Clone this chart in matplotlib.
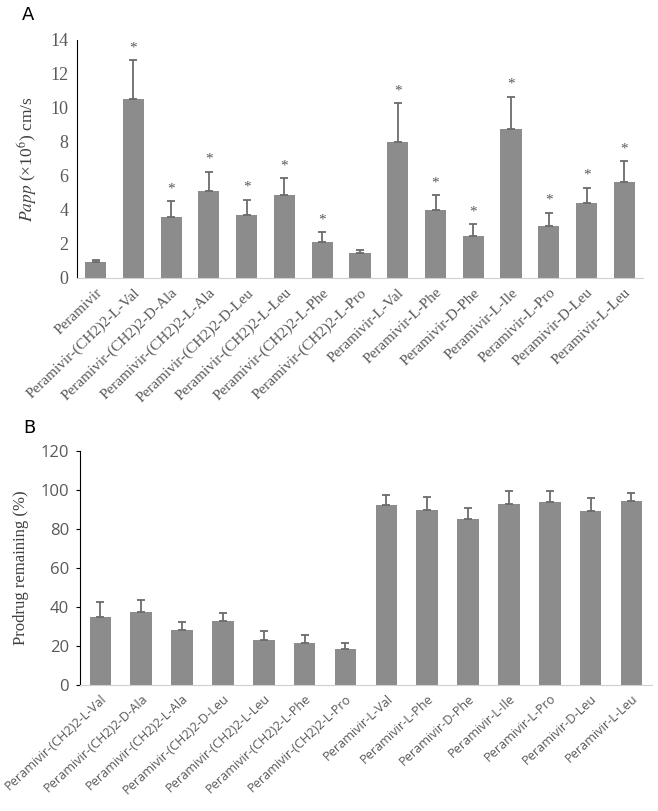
import numpy as np
import matplotlib.pyplot as plt

# panel A - permeability
names_a = ['Peramivir', 'Peramivir-(CH2)2-L-Val', 'Peramivir-(CH2)2-D-Ala',
           'Peramivir-(CH2)2-L-Ala', 'Peramivir-(CH2)2-D-Leu', 'Peramivir-(CH2)2-L-Leu',
           'Peramivir-(CH2)2-L-Phe', 'Peramivir-(CH2)2-L-Pro', 'Peramivir-L-Val',
           'Peramivir-L-Phe', 'Peramivir-D-Phe', 'Peramivir-L-Ile', 'Peramivir-L-Pro',
           'Peramivir-D-Leu', 'Peramivir-L-Leu']
papp = [0.95, 10.5, 3.6, 5.1, 3.67, 4.89, 2.1, 1.44, 8.01, 3.97, 2.44, 8.74, 3.03, 4.38, 5.65]
papp_err = [0.1, 2.3, 0.89, 1.14, 0.93, 0.97, 0.57, 0.19, 2.26, 0.9, 0.7, 1.92, 0.8, 0.92, 1.2]
signif = [0, 1, 1, 1, 1, 1, 1, 0, 1, 1, 1, 1, 1, 1, 1]

# panel B - stability
names_b = names_a[1:]
remain = [35.0, 37.5, 28.2, 32.6, 23.2, 21.5, 18.6, 92.2, 89.6, 85.0, 92.7, 93.7, 88.9, 94.2]
remain_err = [7.7, 6.0, 4.2, 4.1, 4.4, 4.1, 3.1, 5.1, 6.5, 5.8, 6.5, 5.8, 7.0, 4.0]

bar_col = '#8c8c8c'
err_col = '#6b6b6b'
txt_col = '#595959'
serif = 'Liberation Serif'
sans = 'Open Sans'
plt.rcParams['mathtext.fontset'] = 'stix'

fig = plt.figure(figsize=(6.58, 8.11), dpi=100)

# ---- A ----
ax1 = fig.add_axes([0.1166, 0.6576, 0.861, 0.2931])
x = np.arange(len(names_a))
ax1.bar(x, papp, width=0.56, color=bar_col, zorder=2)
ax1.errorbar(x, papp, yerr=[np.zeros(len(papp)), papp_err], fmt='none',
             ecolor=err_col, elinewidth=1.3, capsize=3, capthick=1.3, zorder=3)
for i in range(len(x)):
    if signif[i]:
        ax1.text(x[i], papp[i] + papp_err[i] + 0.35, '*', ha='center', va='bottom',
                 fontsize=11, color=txt_col, family=serif)
ax1.set_xlim(-0.5, len(x) - 0.5)
ax1.set_ylim(0, 14)
ax1.set_yticks(range(0, 15, 2))
ax1.set_xticks(x)
ax1.set_xticklabels(names_a, rotation=44, ha='right', rotation_mode='anchor',
                    family=serif, fontsize=11, color=txt_col)
for lab in ax1.get_yticklabels():
    lab.set_family(serif)
    lab.set_fontsize(13)
    lab.set_color(txt_col)
ax1.tick_params(axis='both', length=0, pad=6)
ax1.spines['top'].set_visible(False)
ax1.spines['right'].set_visible(False)
ax1.spines['left'].set_color('black')
ax1.spines['bottom'].set_color('#d0d0d0')
ax1.set_ylabel(r'$\mathit{Papp}$ (×10$^{6}$) cm/s', family=serif, fontsize=12.5,
               color='#404040', labelpad=8)
fig.text(0.033, 0.981, 'A', fontsize=13, family='DejaVu Sans', va='center')

# ---- B ----
ax2 = fig.add_axes([0.1216, 0.1554, 0.869, 0.2889])
xb = np.arange(len(names_b))
ax2.bar(xb, remain, width=0.53, color=bar_col, zorder=2)
ax2.errorbar(xb, remain, yerr=[np.zeros(len(remain)), remain_err], fmt='none',
             ecolor=err_col, elinewidth=1.3, capsize=3, capthick=1.3, zorder=3)
ax2.set_xlim(-0.5, len(xb) - 0.5)
ax2.set_ylim(0, 120)
ax2.set_yticks(range(0, 121, 20))
ax2.set_xticks(xb)
ax2.set_xticklabels(names_b, rotation=43, ha='right', rotation_mode='anchor',
                    family=sans, fontsize=9.2, color=txt_col)
for lab in ax2.get_yticklabels():
    lab.set_family(sans)
    lab.set_fontsize(12)
    lab.set_color(txt_col)
ax2.tick_params(axis='y', length=3, color='black', pad=5)
ax2.tick_params(axis='x', length=0, pad=5)
ax2.spines['top'].set_visible(False)
ax2.spines['right'].set_visible(False)
ax2.spines['left'].set_color('black')
ax2.spines['bottom'].set_color('#d0d0d0')
ax2.set_ylabel('Prodrug remaining (%)', family=serif, fontsize=12,
               color='#404040', labelpad=8)
fig.text(0.035, 0.472, 'B', fontsize=13, family='DejaVu Sans', va='center')

fig.savefig('out.png', dpi=100)
